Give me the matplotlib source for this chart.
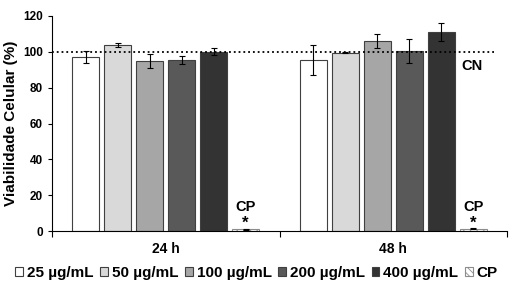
import numpy as np
from matplotlib import pyplot as plt
from matplotlib.patches import Patch

plt.rcParams['font.family'] = ['Liberation Sans', 'DejaVu Sans']
plt.rcParams['font.weight'] = 'bold'
plt.rcParams['hatch.linewidth'] = 0.6

times = ['24 h', '48 h']
series = ['25 µg/mL', '50 µg/mL', '100 µg/mL', '200 µg/mL', '400 µg/mL', 'CP']
values_24h = [97, 104, 95, 95.5, 100, 1.0]
errors_24h = [3.5, 1.2, 4.0, 2.4, 2.0, 0.4]
values_48h = [95.3, 99.6, 106, 100.7, 111.2, 1.3]
errors_48h = [8.4, 0.3, 4.0, 6.7, 5.0, 0.4]
colors = ['white', '#d9d9d9', '#a6a6a6', '#595959', '#333333', 'white']

values = np.array([values_24h, values_48h])
errors = np.array([errors_24h, errors_48h])

fig = plt.figure(figsize=(5.13, 2.94), dpi=100)
ax = fig.add_axes([0.1014, 0.214, 0.8869, 0.7316])

x = np.arange(len(times))
slot = 0.1404
width = 0.118
handles = []
for i, name in enumerate(series):
    pos = x + (i - 2.5) * slot
    hatch = '\\\\\\\\\\' if name == 'CP' else None
    edge = '#8c8c8c' if name == 'CP' else '#404040'
    ax.bar(pos, values[:, i], width, color=colors[i], edgecolor=edge, linewidth=0.8,
           hatch=hatch, yerr=errors[:, i], capsize=2.5,
           error_kw=dict(ecolor='black', elinewidth=0.8, capthick=0.8))
    handles.append(Patch(facecolor=colors[i], edgecolor=edge, hatch=hatch, linewidth=0.8, label=name))
    if name == 'CP':
        for p in pos:
            ax.text(p, 2.0, '*', ha='center', va='baseline', fontsize=12)
            ax.text(p, 11.2, 'CP', ha='center', va='baseline', fontsize=10.5)

# controle negativo (100%)
ax.plot([-0.5, 1.443], [100, 100], linestyle=':', color='black', linewidth=1.3)
ax.text(1.345, 92, 'CN', ha='center', va='center', fontsize=10.5)

ax.set_xlim(-0.5, 1.5)
ax.set_ylim(0, 120)
ax.set_yticks(np.arange(0, 121, 20))
ax.set_xticks([-0.5, 0.5, 1.5], minor=False)
ax.set_xticklabels([])
ax.set_xticks(x, minor=True)
ax.set_xticklabels(times, minor=True, fontsize=10)
ax.tick_params(axis='x', which='minor', length=0, pad=8)
ax.tick_params(axis='x', which='major', length=4, direction='out')
ax.tick_params(axis='y', labelsize=8.5, length=3, direction='out')
ax.spines['top'].set_visible(False)
ax.spines['right'].set_visible(False)
ax.set_ylabel('Viabilidade Celular (%)', fontsize=11, fontweight='bold', labelpad=4)

fig.legend(handles=handles, loc='center', bbox_to_anchor=(0.5, 0.072), ncol=6, frameon=False,
           fontsize=11, handlelength=0.5, handleheight=0.5, handletextpad=0.25, columnspacing=0.45)

fig.savefig('out.png', dpi=100)
